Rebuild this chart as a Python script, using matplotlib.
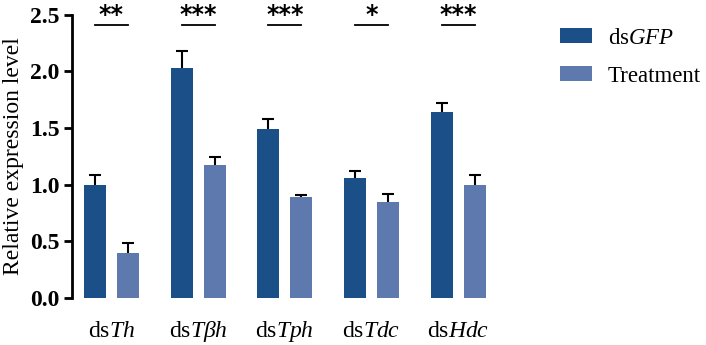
import matplotlib
matplotlib.use("Agg")
import matplotlib.pyplot as plt
import numpy as np

plt.rcParams['font.family'] = ['Liberation Serif', 'DejaVu Serif']
plt.rcParams['mathtext.fontset'] = 'custom'
plt.rcParams['mathtext.rm'] = 'Liberation Serif'
plt.rcParams['mathtext.it'] = 'Liberation Serif:italic'
plt.rcParams['mathtext.bf'] = 'Liberation Serif:bold'

genes = ['ds$\\mathit{Th}$', 'ds$\\mathit{Tβh}$', 'ds$\\mathit{Tph}$', 'ds$\\mathit{Tdc}$', 'ds$\\mathit{Hdc}$']
gfp_mean = [1.00, 2.03, 1.49, 1.06, 1.64]
gfp_err = [0.09, 0.15, 0.09, 0.06, 0.08]
trt_mean = [0.40, 1.175, 0.89, 0.845, 0.995]
trt_err = [0.085, 0.07, 0.02, 0.07, 0.09]
stars = ['**', '***', '***', '*', '***']
series_names = ['ds$\\mathit{GFP}$', 'Treatment']

dark = '#1a4f87'
light = '#5e79ad'

fig = plt.figure(figsize=(7.06, 3.45), dpi=100)
ax = fig.add_axes([0.102, 0.136, 0.603, 0.821])

x = np.arange(len(genes))
w = 0.253
off = 0.19
ax.bar(x - off, gfp_mean, w, color=dark, label=series_names[0], zorder=3)
ax.bar(x + off, trt_mean, w, color=light, label=series_names[1], zorder=3)
# upper-only error bars, drawn behind the bars so only the top part shows
for xs, m, e in [(x - off, gfp_mean, gfp_err), (x + off, trt_mean, trt_err)]:
    eb = ax.errorbar(xs, m, yerr=[np.zeros(5), e], fmt='none', ecolor='black',
                     elinewidth=1.5, capsize=4, capthick=1.5, zorder=2)
    eb[1][0].set_visible(False)

# significance marks
for i, s in enumerate(stars):
    ax.plot([i - off, i + off], [2.41, 2.41], color='black', lw=1.3, clip_on=False)
    ax.text(i, 2.435, s, ha='center', va='baseline', fontsize=17, fontweight='bold',
            family='DejaVu Sans', clip_on=False)

ax.set_xlim(-0.455, 4.455)
ax.set_ylim(0, 2.5)
ax.set_yticks([0.0, 0.5, 1.0, 1.5, 2.0, 2.5])
ax.set_yticklabels(['0.0', '0.5', '1.0', '1.5', '2.0', '2.5'], fontsize=17, fontweight='bold')
ax.set_xticks(x)
ax.set_xticklabels(genes, fontsize=17)
for lab in ax.get_xticklabels():
    lab.set_va('baseline')
ax.tick_params(axis='x', length=0, pad=28)
ax.tick_params(axis='y', width=2, length=6, direction='out', pad=3)
for sp in ['top', 'right', 'bottom']:
    ax.spines[sp].set_visible(False)
ax.spines['left'].set_linewidth(2)
ax.set_ylabel('Relative expression level', fontsize=17, labelpad=4)

ax.legend(loc='upper left', bbox_to_anchor=(1.097, 1.028), frameon=False, fontsize=16.5,
          handlelength=1.4, handleheight=0.63, handletextpad=0.7, labelspacing=0.75)

fig.savefig('out.png', dpi=100)
